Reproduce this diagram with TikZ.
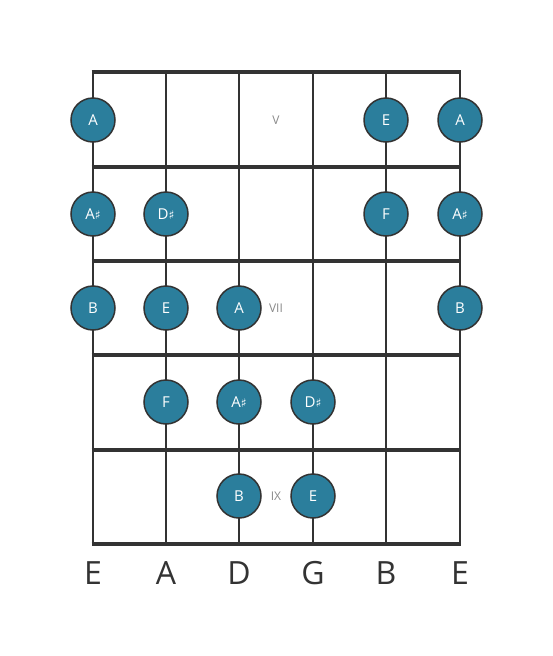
\documentclass[tikz,border=0pt]{standalone}
\usepackage{fontspec}
\setmainfont{Open Sans}
\newfontfamily\symfont{DejaVu Sans}
\definecolor{dotfill}{HTML}{2B7E9C}
\definecolor{linecol}{HTML}{333333}
\definecolor{fretnum}{HTML}{8A8A8A}
\newcommand{\shp}{{\symfont\fontsize{12}{12}\selectfont ♯}}
\begin{document}
\begin{tikzpicture}[x=1pt,y=-1pt,
  stringline/.style={draw=linecol,line width=2.6pt},
  fretline/.style={draw=linecol,line width=4.6pt},
  notedot/.style={circle,fill=dotfill,draw=linecol,line width=1.5pt,minimum size=44pt,inner sep=0pt,text=white,font=\fontsize{15}{15}\selectfont},
  fretlabel/.style={text=fretnum,font=\fontsize{12}{12}\selectfont,inner sep=0pt},
  stringname/.style={text=linecol,font=\fontsize{32}{32}\selectfont,inner sep=0pt}]
\useasboundingbox[fill=white] (0,0) rectangle (553,656);
% strings
\foreach \x/\n in {93/s1,166/s2,239/s3,313/s4,386/s5,460/s6}{
  \coordinate (\n t) at (\x,72);
  \coordinate (\n b) at (\x,544);
  \draw[stringline] (\n t) -- (\n b);
}
% frets
\foreach \y/\n in {72/f0,167/f1,261/f2,355/f3,450/f4,544/f5}{
  \coordinate (\n l) at (91.7,\y);
  \coordinate (\n r) at (461.3,\y);
  \draw[fretline] (\n l) -- (\n r);
}
% fret numbers
\node[fretlabel] (lv) at (276,120) {V};
\node[fretlabel] (lvii) at (276,308) {VII};
\node[fretlabel] (lix) at (276,496) {IX};
% notes
\node[notedot] (n11) at (93,120) {A};
\node[notedot] (n15) at (386,120) {E};
\node[notedot] (n16) at (460,120) {A};
\node[notedot] (n21) at (93,214) {A\shp};
\node[notedot] (n22) at (166,214) {D\shp};
\node[notedot] (n25) at (386,214) {F};
\node[notedot] (n26) at (460,214) {A\shp};
\node[notedot] (n31) at (93,308) {B};
\node[notedot] (n32) at (166,308) {E};
\node[notedot] (n33) at (239,308) {A};
\node[notedot] (n36) at (460,308) {B};
\node[notedot] (n42) at (166,402) {F};
\node[notedot] (n43) at (239,402) {A\shp};
\node[notedot] (n44) at (313,402) {D\shp};
\node[notedot] (n53) at (239,496) {B};
\node[notedot] (n54) at (313,496) {E};
% string names
\node[stringname] (e1) at (93,573) {E};
\node[stringname] (a1) at (166,573) {A};
\node[stringname] (d1) at (239,573) {D};
\node[stringname] (g1) at (313,573) {G};
\node[stringname] (b1) at (386,573) {B};
\node[stringname] (e2) at (460,573) {E};
\end{tikzpicture}
\end{document}
